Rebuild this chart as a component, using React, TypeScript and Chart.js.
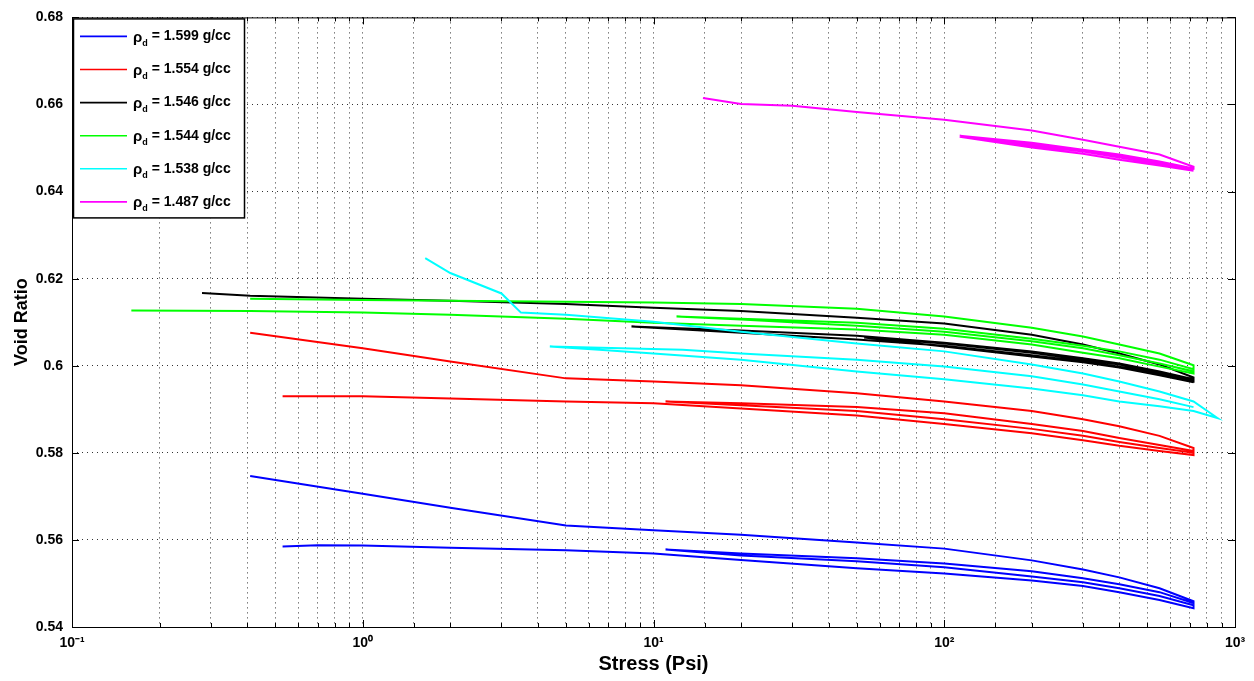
import React, { useEffect, useRef } from "react";
import { Chart, registerables } from "chart.js";

Chart.register(...registerables);

// ---------- data (stress in psi, void ratio) ----------
const blueStress = [0.41, 1, 2, 5, 10, 20, 50, 100, 200, 300, 400, 550, 720, 720, 550, 400, 300, 200, 100, 50, 20, 11, 20, 50, 100, 200, 300, 400, 550, 720, 720, 550, 400, 300, 200, 100, 50, 20, 10, 5, 2, 1, 0.7, 0.53];
const blueVoid = [0.5747, 0.5706, 0.5674, 0.5633, 0.5622, 0.5612, 0.5594, 0.558, 0.5553, 0.5532, 0.5514, 0.5489, 0.5459, 0.5455, 0.548, 0.5498, 0.5512, 0.5528, 0.5546, 0.5558, 0.5569, 0.5578, 0.5564, 0.5551, 0.5537, 0.5516, 0.5503, 0.5489, 0.5471, 0.545, 0.5443, 0.5462, 0.548, 0.5494, 0.5507, 0.5523, 0.5535, 0.5554, 0.5569, 0.5576, 0.5582, 0.5587, 0.5588, 0.5585];

const redStress = [0.41, 1, 2, 5, 10, 20, 50, 100, 200, 300, 400, 550, 720, 720, 550, 400, 300, 200, 100, 50, 20, 11, 20, 50, 100, 200, 300, 400, 550, 720, 720, 550, 400, 300, 200, 100, 50, 20, 10, 5, 2, 1, 0.53];
const redVoid = [0.6076, 0.604, 0.601, 0.5971, 0.5964, 0.5955, 0.5937, 0.5918, 0.5896, 0.5877, 0.5861, 0.5839, 0.5811, 0.5804, 0.5818, 0.5834, 0.585, 0.5866, 0.5891, 0.5905, 0.5914, 0.5918, 0.5909, 0.5896, 0.5877, 0.5855, 0.5839, 0.5825, 0.5811, 0.58, 0.5795, 0.5804, 0.5816, 0.5829, 0.5845, 0.5866, 0.5886, 0.5902, 0.5914, 0.5918, 0.5925, 0.593, 0.593];

const blackStress = [0.28, 0.41, 1, 2, 5, 10, 20, 50, 100, 200, 300, 400, 550, 720, 720, 550, 400, 300, 200, 100, 50, 20, 8.4, 20, 50, 100, 200, 300, 400, 550, 720, 720, 550, 400, 300, 200, 100, 53, 100, 200, 300, 400, 550, 720];
const blackVoid = [0.6167, 0.6161, 0.6154, 0.6149, 0.6142, 0.6133, 0.6126, 0.611, 0.6097, 0.6071, 0.6049, 0.6028, 0.6003, 0.5973, 0.5969, 0.5987, 0.6005, 0.6017, 0.6033, 0.6053, 0.6069, 0.6081, 0.609, 0.6076, 0.606, 0.6046, 0.6024, 0.601, 0.5998, 0.5982, 0.5964, 0.5966, 0.5985, 0.6003, 0.6014, 0.603, 0.6051, 0.6065, 0.6044, 0.6021, 0.6008, 0.5996, 0.5978, 0.5962];

const greenStress = [0.41, 1, 2, 5, 10, 20, 50, 100, 200, 300, 400, 550, 720, 720, 550, 400, 300, 200, 100, 50, 20, 12, 20, 50, 100, 200, 300, 400, 550, 720, 720, 550, 400, 300, 200, 100, 50, 20, 10, 5, 2, 1, 0.41, 0.16];
const greenVoid = [0.6154, 0.6151, 0.6149, 0.6147, 0.6145, 0.6142, 0.6131, 0.6113, 0.6087, 0.6067, 0.6049, 0.6028, 0.6001, 0.5992, 0.6014, 0.6033, 0.6046, 0.6062, 0.6085, 0.6099, 0.6108, 0.6113, 0.6106, 0.6092, 0.6078, 0.6056, 0.604, 0.6024, 0.6005, 0.5987, 0.5982, 0.5998, 0.6017, 0.603, 0.6049, 0.6071, 0.6083, 0.6092, 0.6099, 0.6108, 0.6117, 0.6122, 0.6126, 0.6127];

const cyanStress = [1.64, 2, 3, 3.5, 5, 10, 20, 50, 100, 200, 300, 400, 550, 720, 870, 720, 550, 400, 300, 200, 100, 50, 20, 10, 6.5, 4.4, 12.6, 20, 50, 100, 200, 300, 400, 550, 720];
const cyanVoid = [0.6247, 0.6213, 0.6166, 0.6122, 0.6117, 0.6101, 0.6078, 0.6051, 0.6033, 0.6003, 0.5982, 0.5964, 0.5941, 0.5918, 0.588, 0.5896, 0.5907, 0.5918, 0.5932, 0.5948, 0.5969, 0.5987, 0.6014, 0.6028, 0.6037, 0.6044, 0.6037, 0.6028, 0.6014, 0.5998, 0.5976, 0.5957, 0.5941, 0.5923, 0.5905];

const magentaStress = [14.8, 20, 30, 50, 100, 200, 300, 400, 550, 720, 720, 550, 400, 300, 200, 113, 200, 300, 400, 550, 720, 720, 550, 400, 300, 200, 113, 200, 300, 400, 550, 720];
const magentaVoid = [0.6615, 0.6601, 0.6597, 0.6583, 0.6565, 0.654, 0.6519, 0.6503, 0.6485, 0.6457, 0.6453, 0.6469, 0.6485, 0.6496, 0.6512, 0.6528, 0.6505, 0.6492, 0.6478, 0.6464, 0.6451, 0.6451, 0.6467, 0.6481, 0.6494, 0.6508, 0.6526, 0.6501, 0.6487, 0.6473, 0.646, 0.6448];

const densityLabels = ["1.599", "1.554", "1.546", "1.544", "1.538", "1.487"];
const seriesColors = ["#0000ff", "#ff0000", "#000000", "#00ff00", "#00ffff", "#ff00ff"];
const xDecadeLabels = ["10\u207B\u00B9", "10\u2070", "10\u00B9", "10\u00B2", "10\u00B3"];
const yTickLabels = ["0.54", "0.56", "0.58", "0.6", "0.62", "0.64", "0.66", "0.68"];
const xTitle = "Stress (Psi)";
const yTitle = "Void Ratio";

const SANS = '"Liberation Sans", Arial, sans-serif';

const stressArrays = [blueStress, redStress, blackStress, greenStress, cyanStress, magentaStress];
const voidArrays = [blueVoid, redVoid, blackVoid, greenVoid, cyanVoid, magentaVoid];

function isDecade(v: number) {
  const l = Math.log10(v);
  return Math.abs(l - Math.round(l)) < 1e-6;
}

const framePlugin = {
  id: "matlabFrame",
  afterDatasetsDraw(chart: any) {
    const { ctx, chartArea: ca, scales } = chart;
    ctx.save();
    ctx.strokeStyle = "#000";
    ctx.lineWidth = 1;
    ctx.strokeRect(ca.left + 0.5, ca.top + 0.5, ca.right - ca.left, ca.bottom - ca.top);
    ctx.beginPath();
    scales.x.ticks.forEach((t: any) => {
      const px = Math.round(scales.x.getPixelForValue(t.value)) + 0.5;
      const len = isDecade(t.value) ? 7 : 4;
      ctx.moveTo(px, ca.bottom);
      ctx.lineTo(px, ca.bottom - len);
      ctx.moveTo(px, ca.top);
      ctx.lineTo(px, ca.top + len);
    });
    scales.y.ticks.forEach((t: any) => {
      const py = Math.round(scales.y.getPixelForValue(t.value)) + 0.5;
      ctx.moveTo(ca.left, py);
      ctx.lineTo(ca.left + 7, py);
      ctx.moveTo(ca.right, py);
      ctx.lineTo(ca.right - 7, py);
    });
    ctx.stroke();
    ctx.restore();
  },
};

const legendPlugin = {
  id: "matlabLegend",
  afterDatasetsDraw(chart: any) {
    const { ctx, chartArea: ca } = chart;
    const bx = ca.left + 1;
    const by = ca.top + 1;
    const bw = 172;
    const bh = 200;
    ctx.save();
    ctx.fillStyle = "#fff";
    ctx.fillRect(bx, by, bw, bh);
    ctx.strokeStyle = "#000";
    ctx.lineWidth = 1.5;
    ctx.strokeRect(bx + 0.5, by + 0.5, bw - 1, bh - 1);
    densityLabels.forEach((lab, i) => {
      const y = by + 18 + i * 33.1;
      ctx.strokeStyle = seriesColors[i];
      ctx.lineWidth = 1.6;
      ctx.beginPath();
      ctx.moveTo(bx + 7, y);
      ctx.lineTo(bx + 54, y);
      ctx.stroke();
      ctx.fillStyle = "#000";
      ctx.textBaseline = "middle";
      ctx.textAlign = "left";
      let x = bx + 60;
      ctx.font = `bold 15px ${SANS}`;
      ctx.fillText("\u03C1", x, y + 1);
      x += ctx.measureText("\u03C1").width;
      ctx.font = `bold 9px ${SANS}`;
      ctx.fillText("d", x, y + 7);
      x += ctx.measureText("d").width;
      ctx.font = `bold 14px ${SANS}`;
      ctx.fillText(" = " + lab + " g/cc", x, y);
    });
    ctx.restore();
  },
};

export default function App() {
  const ref = useRef<HTMLCanvasElement>(null);
  useEffect(() => {
    document.body.style.margin = "0";
    const datasets = stressArrays.map((xs, i) => ({
      label: densityLabels[i],
      data: xs.map((x, j) => ({ x, y: voidArrays[i][j] })),
      borderColor: seriesColors[i],
      backgroundColor: seriesColors[i],
      borderWidth: 2,
      pointRadius: 0,
      tension: 0,
      fill: false,
      order: 5 - i,
    }));
    const chart = new Chart(ref.current as HTMLCanvasElement, {
      type: "line",
      data: { datasets },
      options: {
        responsive: false,
        animation: false,
        devicePixelRatio: 1,
        layout: { padding: { left: 0, right: 19, top: 14, bottom: 0 } },
        plugins: {
          legend: { display: false },
          tooltip: { enabled: false },
          title: { display: false },
        },
        scales: {
          x: {
            type: "logarithmic",
            min: 0.1,
            max: 1000,
            afterFit: (s: any) => {
              s.height = 54;
            },
            grid: { color: "rgba(0,0,0,0.8)", lineWidth: 1, drawTicks: false },
            border: { display: false, dash: [1, 4] },
            ticks: {
              autoSkip: false,
              maxRotation: 0,
              padding: 8,
              color: "#000",
              font: { family: SANS, size: 14, weight: "bold" },
              callback: (v: any) => {
                const n = Number(v);
                if (!isDecade(n)) return "";
                return xDecadeLabels[Math.round(Math.log10(n)) + 1] ?? "";
              },
            },
            title: {
              display: true,
              text: xTitle,
              color: "#000",
              font: { family: SANS, size: 20, weight: "bold" },
              padding: { top: 0, bottom: 5 },
            },
          },
          y: {
            min: 0.54,
            max: 0.68,
            afterFit: (s: any) => {
              s.width = 72;
            },
            grid: { color: "rgba(0,0,0,0.8)", lineWidth: 1, drawTicks: false },
            border: { display: false, dash: [1, 4] },
            ticks: {
              stepSize: 0.02,
              padding: 9,
              color: "#000",
              font: { family: SANS, size: 14, weight: "bold" },
              callback: (v: any) => {
                const idx = Math.round((Number(v) - 0.54) / 0.02);
                return yTickLabels[idx] ?? "";
              },
            },
            title: {
              display: true,
              text: yTitle,
              color: "#000",
              font: { family: SANS, size: 18, weight: "bold" },
              padding: { top: 11, bottom: 0 },
            },
          },
        },
      } as any,
      plugins: [framePlugin, legendPlugin],
    });
    return () => chart.destroy();
  }, []);
  return (
    <div style={{ position: "fixed", left: 0, top: 0, width: 1254, height: 681, background: "#fff" }}>
      <canvas ref={ref} width={1254} height={681} style={{ display: "block", width: 1254, height: 681 }} />
    </div>
  );
}
